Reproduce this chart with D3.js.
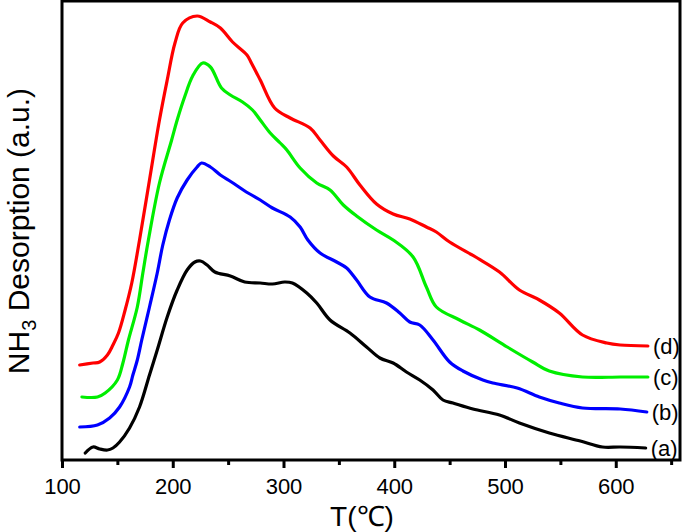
<!DOCTYPE html>
<html>
<head>
<meta charset="utf-8">
<script src="https://cdn.jsdelivr.net/npm/d3@7/dist/d3.min.js"></script>
<style>
  html, body { margin: 0; padding: 0; background: #fff; }
  svg { display: block; }
  text { font-family: "Liberation Sans", Arial, Helvetica, sans-serif; fill: #000; }
</style>
</head>
<body>
<svg id="chart" width="685" height="532"></svg>
<script>
// ---- data (temperature in °C, intensity in arbitrary units) ----
const tA = [121,128,134,141,146,152,161,170,179,186,195,204,213,220,225,231,238,252,265,279,290,301,308,321,330,342,360,375,387,399,411,423,435,444,453,471,495,513,540,568,588,604,627];
const yA = [7,13,11,10,12,18,32,53,85,110,143,170,190,198,199,195,188,184,178,177,176,178,177,167,157,140,127,113,102,97,88,80,70,60,57,51,45,37,27,19,13,13,12];

const tB = [116,132,143,152,161,164,168,172,179,186,191,197,204,213,222,226,234,243,253,268,279,290,306,315,322,333,348,357,366,378,393,405,414,423,435,450,462,480,489,511,531,549,570,604,628];
const yB = [33,35,42,53,73,85,100,120,153,187,215,240,262,280,293,297,293,285,278,267,260,252,243,233,220,207,198,192,180,163,157,147,138,135,120,98,89,80,77,72,63,57,52,51,48];

const tC = [118,132,139,150,155,160,168,173,178,188,199,204,211,218,227,234,244,252,263,272,279,288,297,303,315,330,342,354,366,384,399,417,429,438,459,477,502,525,540,570,604,629];
const yC = [63,63,67,80,97,120,153,187,220,277,320,340,364,384,397,393,372,365,358,350,340,327,317,310,292,277,270,255,244,230,220,203,173,153,140,130,113,98,89,83,83,83];

const tD = [116,128,134,141,146,151,157,163,170,179,188,195,202,209,222,234,243,254,267,271,279,292,306,324,333,345,357,369,384,399,414,429,438,450,475,495,513,531,549,570,592,604,629];
const yD = [95,97,98,105,115,127,150,177,220,280,340,380,417,437,444,438,432,418,405,397,380,352,342,332,320,304,293,275,256,246,241,233,228,218,202,188,170,160,147,125,117,115,114];

const seriesNames = ["(a)", "(b)", "(c)", "(d)"];
const seriesColors = ["#000000", "#0000ff", "#00ee00", "#ff0000"];
const xTicks = [100, 200, 300, 400, 500, 600];
const xMinorTicks = [150, 250, 350, 450, 550, 650];

// ---- layout ----
const svg = d3.select("#chart");
const L = 62, R = 680, T = 1, B = 460;
const x = d3.scaleLinear().domain([100, 658]).range([L, R]);
const y = d3.scaleLinear().domain([0, 459]).range([B, T]);

const series = [
  { name: seriesNames[0], color: seriesColors[0], t: tA, v: yA },
  { name: seriesNames[1], color: seriesColors[1], t: tB, v: yB },
  { name: seriesNames[2], color: seriesColors[2], t: tC, v: yC },
  { name: seriesNames[3], color: seriesColors[3], t: tD, v: yD }
];

const line = d3.line()
  .x(d => x(d[0]))
  .y(d => y(d[1]))
  .curve(d3.curveCatmullRom.alpha(0.5));

series.forEach(s => {
  const pts = s.t.map((t, i) => [t, s.v[i]]);
  svg.append("path")
    .attr("d", line(pts))
    .attr("fill", "none")
    .attr("stroke", s.color)
    .attr("stroke-width", 3.2)
    .attr("stroke-linejoin", "round")
    .attr("stroke-linecap", "round");
  const last = pts[pts.length - 1];
  svg.append("text")
    .attr("x", x(last[0]) + 5)
    .attr("y", y(last[1]) + 8)
    .attr("font-size", 22)
    .text(s.name);
});

// ---- frame ----
svg.append("rect")
  .attr("x", L).attr("y", T)
  .attr("width", R - L).attr("height", B - T)
  .attr("fill", "none")
  .attr("stroke", "#000")
  .attr("stroke-width", 3);

// ---- x axis ----
const xAxis = d3.axisBottom(x)
  .tickValues(xTicks)
  .tickSize(8)
  .tickPadding(10)
  .tickFormat(d3.format("d"));
const gx = svg.append("g").attr("transform", `translate(0,${B})`).call(xAxis);
gx.select(".domain").remove();
gx.selectAll(".tick line").attr("stroke-width", 3);
gx.selectAll(".tick text")
  .attr("font-size", 22)
  .attr("font-family", "Liberation Sans, Arial, sans-serif");

const xAxisMinor = d3.axisBottom(x)
  .tickValues(xMinorTicks)
  .tickSize(5)
  .tickFormat("");
const gxm = svg.append("g").attr("transform", `translate(0,${B})`).call(xAxisMinor);
gxm.select(".domain").remove();
gxm.selectAll(".tick line").attr("stroke-width", 3);

// ---- titles ----
svg.append("text")
  .attr("x", 362).attr("y", 526)
  .attr("text-anchor", "middle")
  .attr("font-size", 28)
  .text("T(℃)");

const yt = svg.append("text")
  .attr("transform", "translate(29,231) rotate(-90)")
  .attr("text-anchor", "middle")
  .attr("font-size", 30);
yt.append("tspan").text("NH");
yt.append("tspan").attr("font-size", 20).attr("dy", 7).text("3");
yt.append("tspan").attr("dy", -7).text(" Desorption (a.u.)");
</script>
</body>
</html>
